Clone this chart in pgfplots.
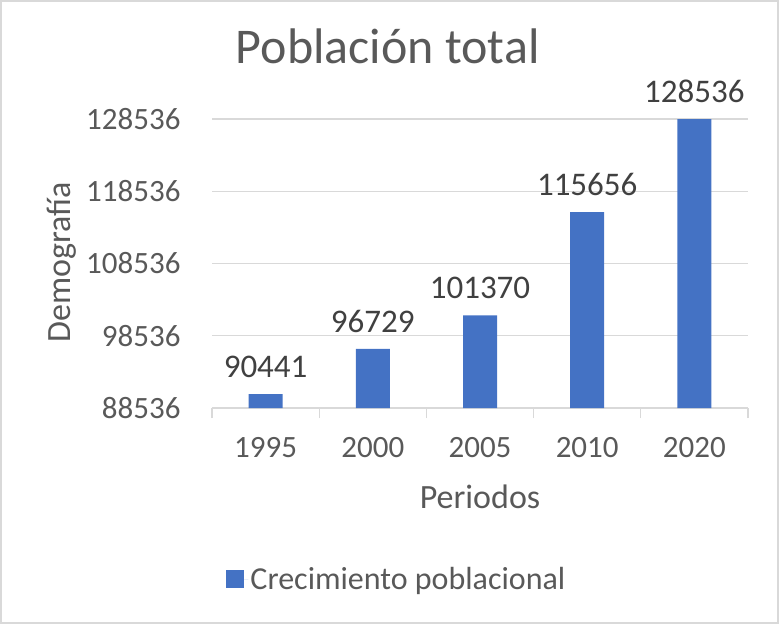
\documentclass[border=0pt]{standalone}
\usepackage{pgfplots}
\pgfplotsset{compat=1.18}
\usepackage{fontspec}
\setmainfont{Carlito}
\definecolor{barblue}{HTML}{4472C4}
\definecolor{gridgray}{HTML}{D9D9D9}
\definecolor{txtgray}{HTML}{595959}
\definecolor{lblgray}{HTML}{404040}
\begin{document}
\begin{tikzpicture}[x=1pt,y=1pt]
\path[draw=gridgray,line width=2pt] (1,1) rectangle (778,623);
\begin{axis}[
  at={(212pt,216pt)}, anchor=south west,
  scale only axis, width=536pt, height=289pt,
  ybar, bar width=34pt,
  xmin=-0.5, xmax=4.5,
  ymin=88536, ymax=128536,
  scaled y ticks=false,
  ytick={88536,98536,108536,118536,128536},
  yticklabels={88536,98536,108536,118536,128536},
  xtick={0,1,2,3,4},
  xticklabels={1995,2000,2005,2010,2020},
  extra x ticks={-0.5,0.5,1.5,2.5,3.5,4.5},
  extra x tick labels={},
  extra x tick style={major tick length=10pt, tick style={draw=gridgray, line width=1.3pt}, grid=none},
  major tick length=0pt,
  tick pos=left,
  ymajorgrids, grid style={draw=gridgray, line width=1.3pt},
  axis line style={draw=none},
  axis x line*=bottom,
  x axis line style={draw=gridgray, line width=1.3pt},
  axis y line*=left,
  y axis line style={draw=none},
  tick label style={font=\fontsize{31}{34}\selectfont, text=txtgray},
  yticklabel style={xshift=-28pt},
  xticklabel style={yshift=-26pt},
  /pgf/number format/assume math mode=true,
  title={Población total},
  title style={font=\fontsize{50}{54}\selectfont, text=txtgray, at={(0.328,1.170)}, anchor=base},
  xlabel={Periodos},
  ylabel={Demografía},
  label style={font=\fontsize{34}{37}\selectfont, text=txtgray},
  xlabel style={at={(0.5,-0.308)}, anchor=center},
  ylabel style={at={(-0.280,0.505)}, anchor=center},
  nodes near coords,
  every node near coord/.append style={font=\fontsize{33}{36}\selectfont, text=lblgray, yshift=13pt},
  point meta=explicit symbolic,
  legend style={at={(0.345,-0.592)}, anchor=center, draw=none, fill=none,
    font=\fontsize{32}{35}\selectfont, text=txtgray},
  legend image code/.code={\fill[barblue] (0pt,-9pt) rectangle (18pt,9pt); \path (0pt,0pt) -- (22pt,0pt);},
]
\addplot[fill=barblue, draw=none] coordinates {
  (0,90441) [90441]
  (1,96729) [96729]
  (2,101370) [101370]
  (3,115656) [115656]
  (4,128536) [128536]
};
\addlegendentry{Crecimiento poblacional}
\end{axis}
\end{tikzpicture}
\end{document}
